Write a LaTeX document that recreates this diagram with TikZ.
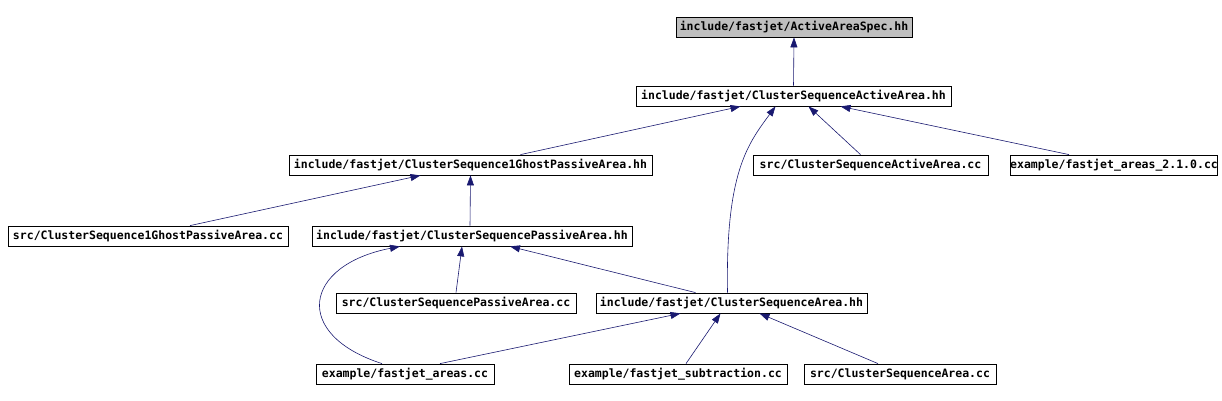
\documentclass[tikz,border=0pt]{standalone}
\usepackage{fontspec}
\setmonofont{DejaVu Sans Mono}
\usetikzlibrary{arrows.meta}
\definecolor{edgecolor}{RGB}{25,25,112}
\definecolor{rootfill}{RGB}{191,191,191}
\tikzset{
  file node/.style={
    draw=black,
    fill=white,
    line width=0.8pt,
    minimum height=20pt,
    inner sep=0pt,
    font=\fontsize{11.5}{13}\selectfont\ttfamily\bfseries
  },
  root node/.style={
    file node,
    fill=rootfill
  },
  dep/.style={
    -{Triangle[length=10pt,width=7pt]},
    draw=edgecolor,
    line width=0.6pt
  }
}
\begin{document}
\begin{tikzpicture}[x=1pt,y=-1pt]
  \useasboundingbox (0,0) rectangle (1222,401);

  % level 0 and 1
  \node[root node, minimum width=236pt] (aas) at (794,27) {include/fastjet/ActiveAreaSpec.hh};
  \node[file node, minimum width=315pt] (csaa) at (793.5,96) {include/fastjet/ClusterSequenceActiveArea.hh};

  % level 2
  \node[file node, minimum width=363pt] (ghosthh) at (470.5,165) {include/fastjet/ClusterSequence1GhostPassiveArea.hh};
  \node[file node, minimum width=235pt] (csaacc) at (870.5,165) {src/ClusterSequenceActiveArea.cc};
  \node[file node, minimum width=204pt] (areas210) at (1114,165) {example/fastjet\_areas\_2.1.0.cc};

  % level 3
  \node[file node, minimum width=280pt] (ghostcc) at (148,236) {src/ClusterSequence1GhostPassiveArea.cc};
  \node[file node, minimum width=320pt] (passivehh) at (472,236) {include/fastjet/ClusterSequencePassiveArea.hh};

  % level 4
  \node[file node, minimum width=240pt] (passivecc) at (456,303) {src/ClusterSequencePassiveArea.cc};
  \node[file node, minimum width=271pt] (csarea) at (731.5,303) {include/fastjet/ClusterSequenceArea.hh};

  % level 5
  \node[file node, minimum width=178pt] (areas) at (405,374) {example/fastjet\_areas.cc};
  \node[file node, minimum width=218pt] (subtr) at (678,374) {example/fastjet\_subtraction.cc};
  \node[file node, minimum width=192pt] (csareacc) at (900,374) {src/ClusterSequenceArea.cc};

  % dependencies
  \draw[dep] (csaa.north) -- (aas.south);
  \draw[dep] ([xshift=50pt]ghosthh.north) -- ([xshift=-53pt]csaa.south);
  \draw[dep] ([xshift=-4pt]csarea.north) .. controls +(-2,-120) and +(-28,38) .. ([xshift=-18pt]csaa.south);
  \draw[dep] ([xshift=-10pt]csaacc.north) -- ([xshift=15pt]csaa.south);
  \draw[dep] ([xshift=-45pt]areas210.north) -- ([xshift=47pt]csaa.south);

  \draw[dep] ([xshift=42pt]ghostcc.north) -- ([xshift=-50pt]ghosthh.south);
  \draw[dep] ([xshift=-2pt]passivehh.north) -- (ghosthh.south);

  \draw[dep] (passivecc.north) -- ([xshift=-10pt]passivehh.south);
  \draw[dep] ([xshift=-36pt]csarea.north) -- ([xshift=38pt]passivehh.south);
  \draw[dep] ([xshift=-23pt]areas.north) .. controls +(-90,-29) and +(-97,19) .. ([xshift=-72pt]passivehh.south);

  \draw[dep] ([xshift=35pt]areas.north) -- ([xshift=-51pt]csarea.south);
  \draw[dep] ([xshift=8pt]subtr.north) -- ([xshift=-11pt]csarea.south);
  \draw[dep] ([xshift=-22pt]csareacc.north) -- ([xshift=28pt]csarea.south);
\end{tikzpicture}
\end{document}
